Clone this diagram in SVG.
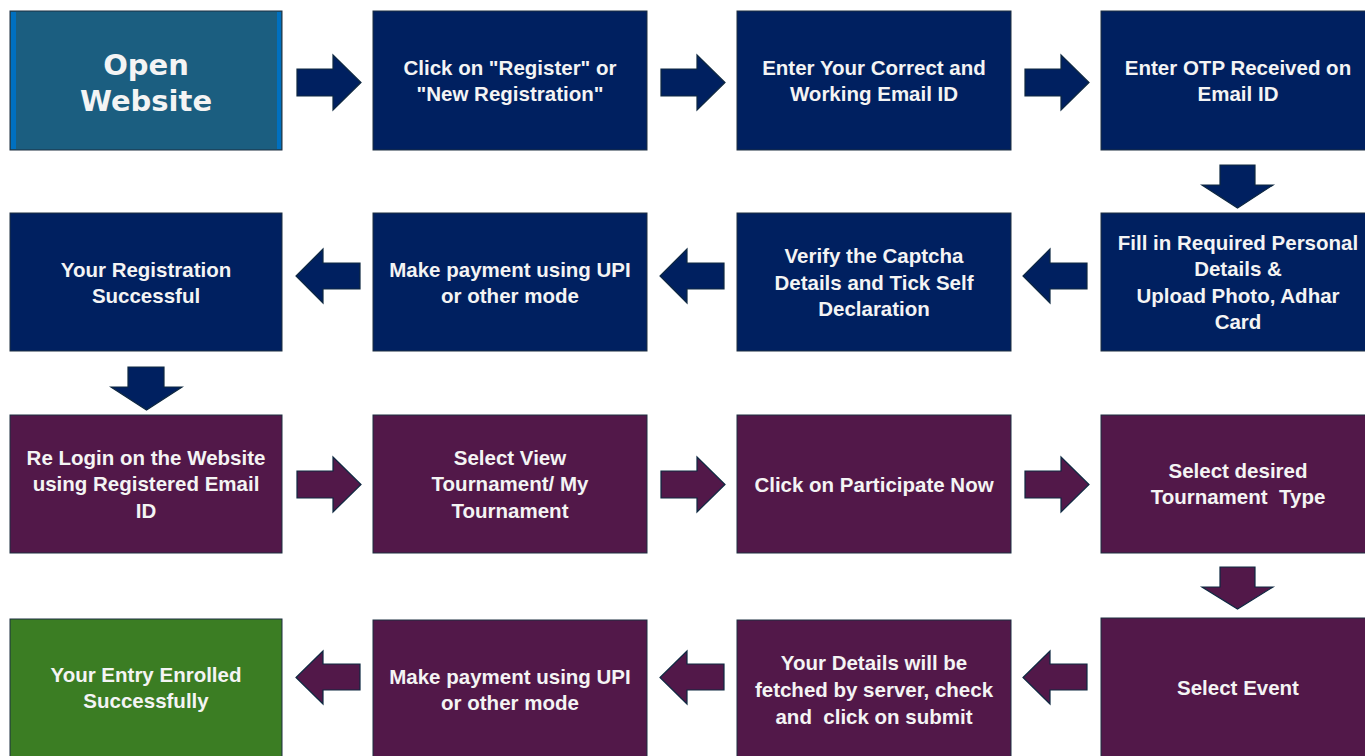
<svg xmlns="http://www.w3.org/2000/svg" width="1365" height="756" viewBox="0 0 1365 756">
<style>
.n{fill:#002060;stroke:#1c2e40;stroke-width:1}
.p{fill:#521849;stroke:#1c2e40;stroke-width:1}
.g{fill:#3b7d23;stroke:#1c2e40;stroke-width:1}
.an{fill:#002060;stroke:#0e2841;stroke-width:1.2}
.ap{fill:#521849;stroke:#0e2841;stroke-width:1.2}
text{font-family:"Liberation Sans",Arial,sans-serif;font-weight:bold;font-size:20.5px;fill:#f4f4f4;text-anchor:middle;white-space:pre}
.big{font-family:"DejaVu Sans",Verdana,sans-serif;font-size:29px}
</style>
<rect width="1365" height="756" fill="#ffffff"/>
<g id="n1">
<rect x="10" y="11" width="272" height="139" fill="#1b5e80" stroke="#1c2e40" stroke-width="1"/>
<rect x="11" y="12" width="5" height="137" fill="#0070c0"/>
<rect x="277" y="12" width="4" height="137" fill="#0070c0"/>
<text class="big" x="146" y="75">Open</text>
<text class="big" x="146" y="111">Website</text>
</g>
<g id="n2"><rect class="n" x="373" y="11" width="274" height="139"/><text x="510" y="75">Click on "Register" or</text><text x="510" y="101">"New Registration"</text></g>
<g id="n3"><rect class="n" x="737" y="11" width="274" height="139"/><text x="874" y="75">Enter Your Correct and</text><text x="874" y="101">Working Email ID</text></g>
<g id="n4"><rect class="n" x="1101" y="11" width="274" height="139"/><text x="1238" y="75">Enter OTP Received on</text><text x="1238" y="101">Email ID</text></g>
<g id="n5"><rect class="n" x="1101" y="213" width="274" height="138"/><text x="1238" y="250">Fill in Required Personal</text><text x="1238" y="276">Details &amp;</text><text x="1238" y="303">Upload Photo, Adhar</text><text x="1238" y="329">Card</text></g>
<g id="n6"><rect class="n" x="737" y="213" width="274" height="138"/><text x="874" y="263">Verify the Captcha</text><text x="874" y="290">Details and Tick Self</text><text x="874" y="316">Declaration</text></g>
<g id="n7"><rect class="n" x="373" y="213" width="274" height="138"/><text x="510" y="277">Make payment using UPI</text><text x="510" y="303">or other mode</text></g>
<g id="n8"><rect class="n" x="10" y="213" width="272" height="138"/><text x="146" y="277">Your Registration</text><text x="146" y="303">Successful</text></g>
<g id="n9"><rect class="p" x="10" y="415" width="272" height="138"/><text x="146" y="465">Re Login on the Website</text><text x="146" y="491">using Registered Email</text><text x="146" y="518">ID</text></g>
<g id="n10"><rect class="p" x="373" y="415" width="274" height="138"/><text x="510" y="465">Select View</text><text x="510" y="491">Tournament/ My</text><text x="510" y="518">Tournament</text></g>
<g id="n11"><rect class="p" x="737" y="415" width="274" height="138"/><text x="874" y="492">Click on Participate Now</text></g>
<g id="n12"><rect class="p" x="1101" y="415" width="274" height="138"/><text x="1238" y="478">Select desired</text><text x="1238" y="504">Tournament  Type</text></g>
<g id="n13"><rect class="p" x="1101" y="618" width="274" height="150"/><text x="1238" y="695">Select Event</text></g>
<g id="n14"><rect class="p" x="737" y="620" width="274" height="150"/><text x="874" y="670">Your Details will be</text><text x="874" y="697">fetched by server, check</text><text x="874" y="724">and  click on submit</text></g>
<g id="n15"><rect class="p" x="373" y="620" width="274" height="150"/><text x="510" y="684">Make payment using UPI</text><text x="510" y="710">or other mode</text></g>
<g id="n16"><rect class="g" x="10" y="619" width="272" height="150"/><text x="146" y="682">Your Entry Enrolled</text><text x="146" y="708">Successfully</text></g>
<g id="connectors">
<polygon class="an" points="297,69 333,69 333,55 361,82.5 333,110 333,96 297,96"/>
<polygon class="an" points="661,69 697,69 697,55 725,82.5 697,110 697,96 661,96"/>
<polygon class="an" points="1025,69 1061,69 1061,55 1089,82.5 1061,110 1061,96 1025,96"/>
<polygon class="an" points="1220,165 1255,165 1255,185 1273,185 1237.5,208 1202,185 1220,185"/>
<polygon class="an" points="1087,263 1050,263 1050,249 1023,276 1050,303 1050,289 1087,289"/>
<polygon class="an" points="724,263 687,263 687,249 660,276 687,303 687,289 724,289"/>
<polygon class="an" points="360,263 323,263 323,249 296,276 323,303 323,289 360,289"/>
<polygon class="an" points="128,367 164,367 164,387 182,387 146.5,410 111,387 128,387"/>
<polygon class="ap" points="297,471 333,471 333,457 361,484.5 333,512 333,498 297,498"/>
<polygon class="ap" points="661,471 697,471 697,457 725,484.5 697,512 697,498 661,498"/>
<polygon class="ap" points="1025,471 1061,471 1061,457 1089,484.5 1061,512 1061,498 1025,498"/>
<polygon class="ap" points="1220,567 1255,567 1255,587 1273,587 1237.5,609 1202,587 1220,587"/>
<polygon class="ap" points="1087,664 1050,664 1050,651 1023,677.5 1050,704 1050,690 1087,690"/>
<polygon class="ap" points="724,664 687,664 687,651 660,677.5 687,704 687,690 724,690"/>
<polygon class="ap" points="360,664 323,664 323,651 296,677.5 323,704 323,690 360,690"/>
</g>
</svg>
